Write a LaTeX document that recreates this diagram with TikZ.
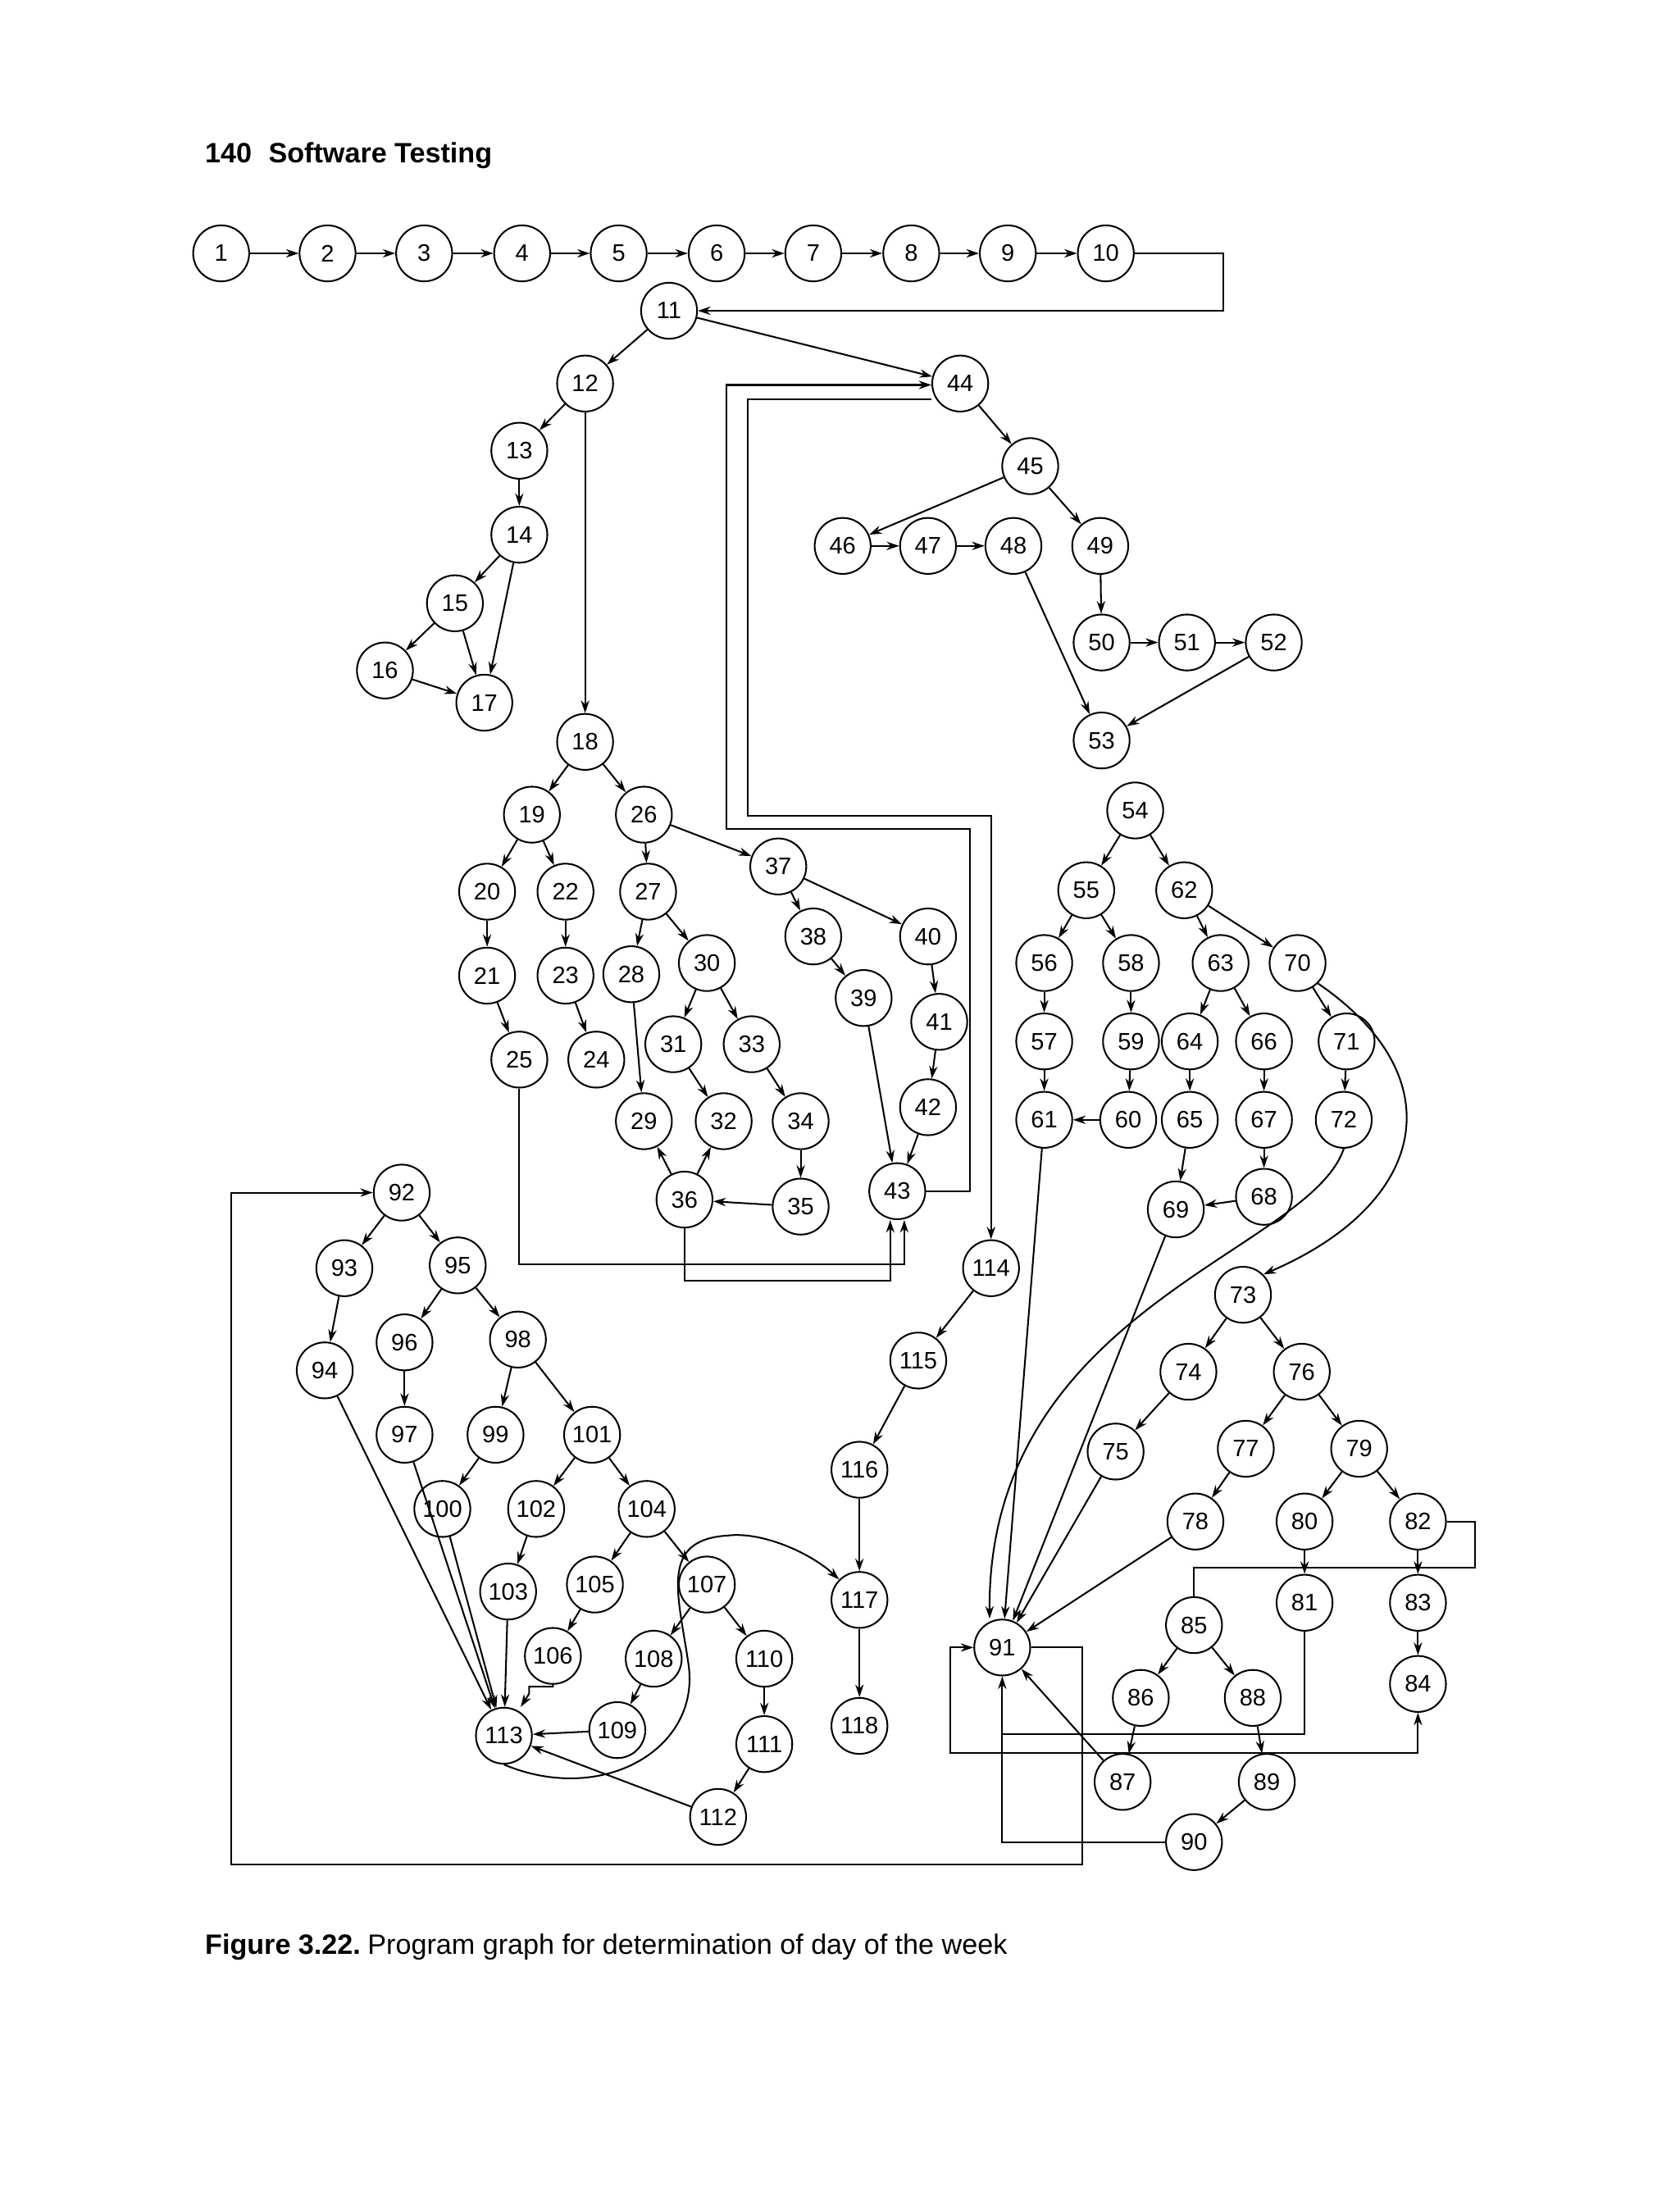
\documentclass[tikz,border=0pt]{standalone}
\usepackage{fontspec}
\setmainfont{Liberation Sans}
\usetikzlibrary{arrows.meta}
\begin{document}
\begin{tikzpicture}[x=1pt,y=-1pt,
 nd/.style={circle,draw,line width=1.2pt,minimum size=40pt,inner sep=0pt,font=\fontsize{17}{17}\selectfont},
 ar/.style={line width=1.2pt,-{Stealth[length=9pt,width=6pt]}},
 ln/.style={line width=1.2pt}]
\useasboundingbox (0,0) rectangle (1200,1571);
\node[anchor=west,font=\fontsize{20}{20}\selectfont\bfseries] (hdr) at (143,111) {140\hspace{12pt}Software Testing};
\node[anchor=west,font=\fontsize{20}{20}\selectfont] (cap) at (143,1391) {\textbf{Figure 3.22.}\hspace{5pt}Program graph for determination of day of the week};
\foreach \n/\x/\y in {1/158/181,2/234/181,3/303/181,4/373/181,5/442/181,6/512/181,7/581/181,8/651/181,9/720/181,10/790/181,
11/478/222,12/418/274,44/686/274,13/371/322,14/371/382,15/325/431,16/275/479,17/346/502,18/418/530,
19/380/582,26/460/582,20/348/637,22/404/637,21/348/697,23/404/697,25/371/757,24/426/757,
27/463/637,37/556/619,28/451/696,30/505/688,29/460/801,31/481/746,33/537/746,32/517/801,34/572/801,35/572/862,36/489/857,
38/581/669,40/663/669,39/617/713,41/671/730,42/663/791,43/641/851,
45/736/333,46/602/390,49/786/390,47/663/390,48/724/390,53/787/529,50/787/459,51/848/459,52/910/459,
54/811/579,55/776/636,62/846/636,56/746/688,58/808/688,57/746/744,61/746/800,59/808/744,60/806/800,
63/872/688,70/927/688,64/850/744,66/903/744,65/850/800,67/903/800,68/903/855,69/840/864,71/962/744,72/960/800,
73/888/925,91/716/1177,74/849/980,76/930/980,75/797/1037,77/890/1035,79/971/1035,78/854/1087,80/932/1087,82/1013/1087,
81/932/1145,83/1013/1145,84/1013/1203,85/853/1161,86/815/1213,88/895/1213,87/802/1273,89/905/1273,90/853/1316,
92/287/852,93/246/906,95/327/904,94/232/979,96/289/959,98/370/957,97/289/1025,99/354/1025,101/423/1025,
100/316/1078,102/383/1078,104/462/1078,103/363/1137,105/425/1132,107/505/1132,106/395/1183,108/467/1185,110/546/1185,
109/441/1236,111/546/1246,112/513/1298,113/360/1240,114/708/906,115/656/972,116/614/1050,117/614/1143,118/614/1233}
 \node[nd] (n\n) at (\x,\y) {\n};
\foreach \a/\b in {1/2,2/3,3/4,4/5,5/6,6/7,7/8,8/9,9/10,11/12,11/44,12/13,13/14,14/15,14/17,15/16,15/17,16/17,12/18,
18/19,18/26,19/20,19/22,20/21,22/23,21/25,23/24,26/27,26/37,27/28,27/30,28/29,30/31,30/33,31/32,33/34,34/35,35/36,36/29,36/32,
37/38,37/40,38/39,40/41,41/42,39/43,42/43,44/45,45/46,45/49,46/47,47/48,48/53,49/50,50/51,51/52,52/53,
54/55,54/62,55/56,55/58,56/57,57/61,58/59,59/60,60/61,62/63,62/70,63/64,63/66,64/65,66/67,67/68,68/69,65/69,70/71,71/72,
61/91,69/91,75/91,78/91,73/74,73/76,74/75,76/77,76/79,77/78,79/80,79/82,80/81,82/83,83/84,85/86,85/88,86/87,88/89,89/90,87/91,
92/93,92/95,93/94,95/96,95/98,96/97,98/99,98/101,99/100,101/102,101/104,102/103,104/105,104/107,105/106,107/108,107/110,
108/109,110/111,111/112,112/113,109/113,94/113,97/113,100/113,103/113,114/115,115/116,116/117,117/118}
 \draw[ar] (n\a) -- (n\b);
\draw[ar] (n10.east) -- (874,181) |- (n11.east);
\draw[ar] (n25.south) |- (646,903) -- (n43.south -| 646,0);
\draw[ar] (n36.south) |- (636,915) -- (n43.south -| 636,0);
\draw[ar] (n43.east) -| (693,592) -| (519,275) -- (n44.west |- 0,275);
\draw[ar] (n44.west |- 0,285) -| (534,583) -| (n114.north);
\draw[ln] (n82.east) -| (1054,1120) -| (n85.north);
\draw[ln] (n81.south) |- (715,1239);
\draw[ar] (n90.west) -| (n91.south);
\draw[ar] (n87.north) -| (n84.south);
\draw[ar] (n87.north) -| (679,1177) -- (n91.west);
\draw[ar] (n91.east) -| (773,1332) -| (165,852) -- (n92.west);
\draw[ar] (n106.south) -- (395,1205) -| (378,1210) -- (n113.north -| 372,0);
\draw[ar] (n70.south east) .. controls (1040,770) and (1020,860) .. (n73.north east);
\draw[ar] (n72.south) .. controls (935,895) and (705,935) .. (n91.north -| 707,0);
\draw[ar] (n113.south) .. controls (430,1290) and (500,1250) .. (492,1190) .. controls (485,1140) and (470,1100) .. (520,1097) .. controls (545,1094) and (580,1110) .. (n117.north west);
\end{tikzpicture}
\end{document}
